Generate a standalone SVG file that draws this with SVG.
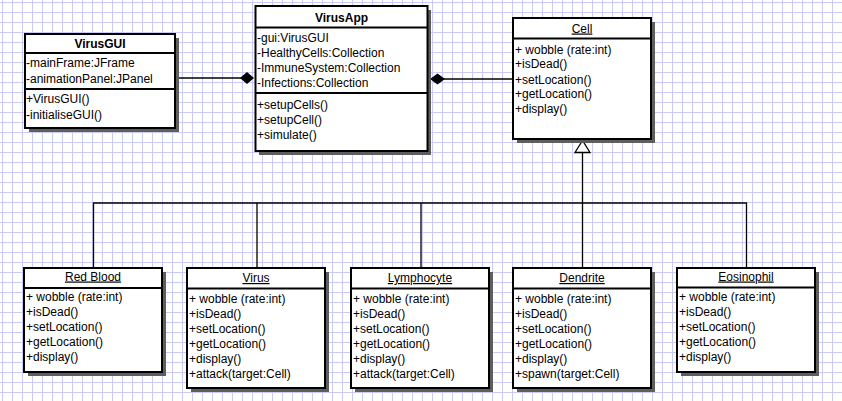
<svg xmlns="http://www.w3.org/2000/svg" width="842" height="401" viewBox="0 0 842 401">
<style>
.box{fill:#fff;stroke:#000;stroke-width:2}
.sh{fill:#5e5e5e}
.div{stroke:#000;stroke-width:2}
text{font-family:"Liberation Sans",Arial,sans-serif;font-size:12px;fill:#000}
.t{font-weight:bold;text-anchor:middle}
.u{text-anchor:middle;text-decoration:underline}
.ln{stroke:#000;stroke-width:1.3;fill:none}
</style>
<defs>
<pattern id="grid" patternUnits="userSpaceOnUse" x="2" y="2" width="10" height="10">
<path d="M0.5 0V10M0 0.5H10" stroke="#cacaf6" stroke-width="1"/>
</pattern>
</defs>
<rect width="842" height="401" fill="#fff"/>
<rect width="842" height="401" fill="url(#grid)"/>

<g id="connectors">
<path class="ln" d="M176 78H241"/>
<polygon points="254,78 247,72 240,78 247,84" fill="#000"/>
<path class="ln" d="M444 79H512"/>
<polygon points="430,79 437.5,73.5 445,79 437.5,84.5" fill="#000"/>
<path class="ln" d="M582.5 152V203M93.5 267V203H746.5V267M257 268V203M421 268V203M582.5 268V203"/>
<polygon points="582.5,140.5 575,152.5 590,152.5" fill="#fff" stroke="#000" stroke-width="1.3"/>
</g>

<g id="VirusGUI">
<rect class="sh" x="29" y="38" width="150" height="94"/>
<rect class="box" x="25" y="34" width="150" height="94"/>
<path class="div" d="M25 53H175M25 89H175"/>
<text class="t" x="100" y="47.5">VirusGUI</text>
<text x="26" y="67">-mainFrame:JFrame</text>
<text x="26" y="82.5">-animationPanel:JPanel</text>
<text x="26" y="103">+VirusGUI()</text>
<text x="26" y="118.5">-initialiseGUI()</text>
</g>

<g id="VirusApp">
<rect class="sh" x="259" y="10" width="172" height="145"/>
<rect class="box" x="255.5" y="6" width="172" height="145"/>
<path class="div" d="M255.5 27.5H427.5M255.5 93H427.5"/>
<text class="t" x="341.5" y="21.5">VirusApp</text>
<text x="257" y="41.5">-gui:VirusGUI</text>
<text x="257" y="56.5">-HealthyCells:Collection</text>
<text x="257" y="71.5">-ImmuneSystem:Collection</text>
<text x="257" y="86.5">-Infections:Collection</text>
<text x="257" y="108.5">+setupCells()</text>
<text x="257" y="123.5">+setupCell()</text>
<text x="257" y="138.5">+simulate()</text>
</g>

<g id="Cell">
<rect class="sh" x="517" y="22" width="138" height="121"/>
<rect class="box" x="513" y="18" width="138" height="121"/>
<path class="div" d="M513 38.5H651"/>
<text class="u" x="582" y="32.5">Cell</text>
<text x="515" y="53.5">+ wobble (rate:int)</text>
<text x="515" y="68">+isDead()</text>
<text x="515" y="83.5">+setLocation()</text>
<text x="515" y="98">+getLocation()</text>
<text x="515" y="113">+display()</text>
</g>

<g id="RedBlood">
<rect class="sh" x="28" y="272" width="138" height="104"/>
<rect class="box" x="24" y="268" width="138" height="104"/>
<path class="div" d="M24 288H162"/>
<text class="u" x="93" y="280.5">Red Blood</text>
<text x="26" y="301">+ wobble (rate:int)</text>
<text x="26" y="316">+isDead()</text>
<text x="26" y="331">+setLocation()</text>
<text x="26" y="346">+getLocation()</text>
<text x="26" y="361">+display()</text>
</g>

<g id="Virus">
<rect class="sh" x="191" y="272" width="138" height="120"/>
<rect class="box" x="187" y="268" width="138" height="120"/>
<path class="div" d="M187 288.5H325"/>
<text class="u" x="256" y="282">Virus</text>
<text x="189" y="302.5">+ wobble (rate:int)</text>
<text x="189" y="317.5">+isDead()</text>
<text x="189" y="332.5">+setLocation()</text>
<text x="189" y="347.5">+getLocation()</text>
<text x="189" y="362.5">+display()</text>
<text x="189" y="377.5">+attack(target:Cell)</text>
</g>

<g id="Lymphocyte">
<rect class="sh" x="355" y="272" width="138" height="120"/>
<rect class="box" x="351" y="268" width="138" height="120"/>
<path class="div" d="M351 288.5H489"/>
<text class="u" x="420" y="282">Lymphocyte</text>
<text x="353" y="302.5">+ wobble (rate:int)</text>
<text x="353" y="317.5">+isDead()</text>
<text x="353" y="332.5">+setLocation()</text>
<text x="353" y="347.5">+getLocation()</text>
<text x="353" y="362.5">+display()</text>
<text x="353" y="377.5">+attack(target:Cell)</text>
</g>

<g id="Dendrite">
<rect class="sh" x="517" y="272" width="138" height="120"/>
<rect class="box" x="513" y="268" width="138" height="120"/>
<path class="div" d="M513 288.5H651"/>
<text class="u" x="582" y="282">Dendrite</text>
<text x="515" y="302.5">+ wobble (rate:int)</text>
<text x="515" y="317.5">+isDead()</text>
<text x="515" y="332.5">+setLocation()</text>
<text x="515" y="347.5">+getLocation()</text>
<text x="515" y="362.5">+display()</text>
<text x="515" y="377.5">+spawn(target:Cell)</text>
</g>

<g id="Eosinophil">
<rect class="sh" x="681" y="272" width="138" height="104"/>
<rect class="box" x="677" y="268" width="138" height="104"/>
<path class="div" d="M677 287.5H815"/>
<text class="u" x="746" y="280.5">Eosinophil</text>
<text x="679" y="301">+ wobble (rate:int)</text>
<text x="679" y="316">+isDead()</text>
<text x="679" y="331">+setLocation()</text>
<text x="679" y="346">+getLocation()</text>
<text x="679" y="361">+display()</text>
</g>
</svg>
